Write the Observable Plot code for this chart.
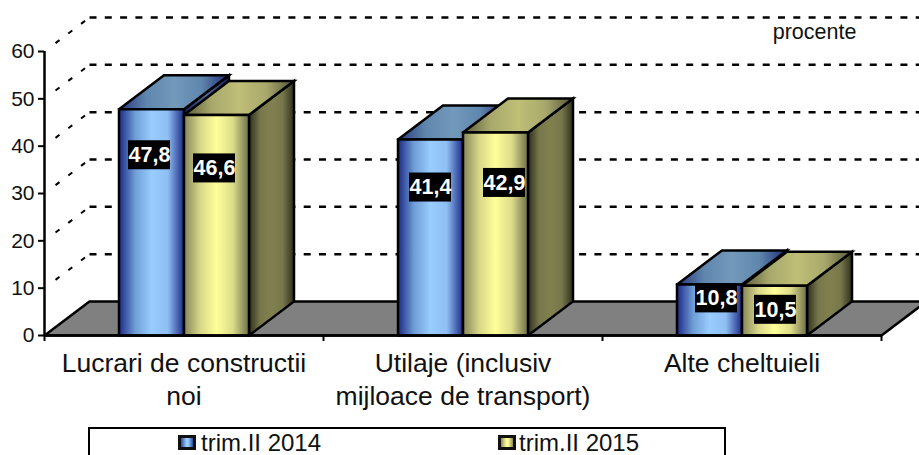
<!DOCTYPE html>
<html><head><meta charset="utf-8">
<script src="https://cdn.jsdelivr.net/npm/d3@7"></script>
<script src="https://cdn.jsdelivr.net/npm/@observablehq/plot@0.6"></script>
<style>
html,body{margin:0;padding:0;background:#fff;overflow:hidden}
body{width:919px;height:455px;position:relative;font-family:"Liberation Sans",Arial,sans-serif}
svg{display:block}
#legend{position:absolute;left:88px;top:427px;width:634px;height:26px;border:2px solid #000;border-bottom:none;font-size:24px;line-height:22px;color:#111}
#legend .it{position:absolute;top:3px;height:22px;white-space:nowrap}
#legend i{position:absolute;top:3px;width:12px;height:9px;border:3px solid #111}
</style></head><body>
<div id="chart"></div>
<div id="legend"></div>
<script>
const categories = ["Lucrari de constructii\nnoi", "Utilaje (inclusiv\nmijloace de transport)", "Alte cheltuieli"];
const seriesNames = ["trim.II 2014", "trim.II 2015"];
const trim2014 = [47.8, 41.4, 10.8];
const trim2015 = [46.6, 42.9, 10.5];
const yTicks = [0, 10, 20, 30, 40, 50, 60];
const unit = "procente";

// layout
const W = 919, H = 427, mL = 44, mR = 38, mT = 51, mB = 92;
const pxX = (W - mL - mR) / 3, pxY = (H - mT - mB) / 60;
const depthX = 45 / pxX, depthY = 34 / pxY;
const barW = 65 / pxX;
const labelShift = [[[-2, 46], [-2, 53.5]], [[0, 48], [9, 50.5]], [[7, 14], [1, 24]]];
const gradients = {
  bf: ["#1c2a86", "#6f9ed6", "#99ccff", "#8fbff2", "#1c2a86"],
  bt: ["#27377f", "#5f86ad", "#7399bb", "#5f86ad", "#1f2c76"],
  bs: ["#141d5c", "#4c6a99", "#141d5c"],
  yf: ["#85855a", "#d8d888", "#ffff99", "#dcdc8a", "#6e6e4a"],
  yt: ["#5a5a3c", "#a8a86c", "#bfbf77", "#a8a86c", "#55553a"],
  ys: ["#2f2f1c", "#77774c", "#80804f", "#77774c", "#2f2f1c"]
};
const defs = () => {
  const d = d3.create("svg:defs");
  for (const [id, cols] of Object.entries(gradients)) {
    const g = d.append("linearGradient").attr("id", id).attr("x1", 0).attr("x2", 1).attr("y1", 0).attr("y2", 0);
    cols.forEach((c, i) => g.append("stop").attr("offset", i / (cols.length - 1)).attr("stop-color", c));
  }
  return d.node();
};
const face = (pts, fill) => Plot.line([...pts, pts[0]], {x: d => d[0], y: d => d[1], fill, stroke: "#000", strokeWidth: 2.5, strokeLinejoin: "miter", strokeMiterlimit: 4, curve: "linear"});
const prism = (x0, v, pre) => {
  const x1 = x0 + barW;
  return [
    face([[x1, 0], [x1 + depthX, depthY], [x1 + depthX, v + depthY], [x1, v]], `url(#${pre}s)`),
    face([[x0, v], [x1, v], [x1 + depthX, v + depthY], [x0 + depthX, v + depthY]], `url(#${pre}t)`),
    face([[x0, 0], [x1, 0], [x1, v], [x0, v]], `url(#${pre}f)`)
  ];
};
const gridValues = yTicks.slice(1);
const bars = [], labels = [];
categories.forEach((_, i) => {
  const c = i + 0.5;
  bars.push(...prism(c - barW, trim2014[i], "b"), ...prism(c, trim2015[i], "y"));
  [trim2014[i], trim2015[i]].forEach((v, s) => {
    const [sx, sy] = labelShift[i][s];
    labels.push({x: c + (s ? barW / 2 : -barW / 2) + sx / pxX, y: v - sy / pxY, t: d3.format(".1f")(v).replace(".", ",")});
  });
});
const boxW = 42 / pxX, boxH = 29 / pxY;
const plot = Plot.plot({
  width: W, height: H, marginLeft: mL, marginRight: mR, marginTop: mT, marginBottom: mB,
  style: {fontFamily: '"Liberation Sans",Arial,sans-serif', background: "#fff", color: "#111"},
  x: {type: "linear", domain: [0, 3], axis: null},
  y: {type: "linear", domain: [0, 60], axis: null},
  marks: [
    defs,
    face([[0, 0], [3, 0], [3 + depthX, depthY], [depthX, depthY]], "#808080"),
    Plot.link(gridValues, {x1: depthX, x2: 3 + depthX, y1: v => v + depthY, y2: v => v + depthY, stroke: "#000", strokeWidth: 2.5, strokeDasharray: "7,8.3"}),
    Plot.link(gridValues, {x1: depthX * 0.245, x2: depthX, y1: v => v + depthY * 0.245, y2: v => v + depthY, stroke: "#000", strokeWidth: 2, strokeDasharray: "5,11"}),
    ...bars,
    Plot.ruleX([0], {y1: 0, y2: 60, stroke: "#000", strokeWidth: 2.5}),
    Plot.ruleY([0], {x1: 0, x2: 3, stroke: "#000", strokeWidth: 2.5}),
    Plot.axisY({ticks: yTicks, tickSize: 6, tickPadding: 4, fontSize: 21, stroke: "#000", strokeWidth: 2, fill: "#111", label: null, tickFormat: d => d}),
    Plot.axisX({ticks: [0, 1, 2, 3], tickSize: 6, tickFormat: () => "", stroke: "#000", strokeWidth: 2, label: null}),
    Plot.text(categories, {x: (_, i) => i + 0.5, y: 0, text: d => d, fontSize: 26.5, lineHeight: 1.22, lineAnchor: "top", dy: 14, fill: "#111"}),
    Plot.rect(labels, {x1: d => d.x - boxW / 2, x2: d => d.x + boxW / 2, y1: d => d.y - boxH / 2, y2: d => d.y + boxH / 2, fill: "#000"}),
    Plot.text(labels, {x: "x", y: "y", text: "t", fill: "#fff", fontSize: 21.5, fontWeight: "bold"}),
    Plot.text([unit], {x: 2.76, y: 64.1, text: d => d, fontSize: 21.5, fill: "#111"})
  ]
});
document.getElementById("chart").append(plot);
const legend = document.getElementById("legend");
[["#99ccff", "#2c4a9c", 111, -23], ["#ffff99", "#8a8a5a", 429, -21]].forEach(([mid, edge, left, swLeft], i) => {
  const it = document.createElement("div");
  it.className = "it"; it.style.left = left + "px"; it.textContent = seriesNames[i];
  const sw = document.createElement("i");
  sw.style.left = swLeft + "px";
  sw.style.background = `linear-gradient(90deg,${edge},${mid} 45%,${mid} 60%,${edge})`;
  it.append(sw); legend.append(it);
});
</script>
</body></html>
